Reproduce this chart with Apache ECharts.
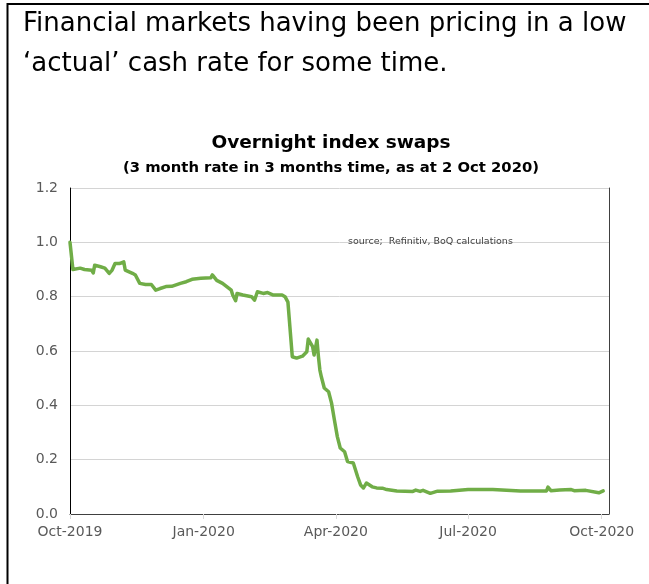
<!DOCTYPE html>
<html>
<head>
<meta charset="utf-8">
<script src="https://cdn.jsdelivr.net/npm/echarts@6/dist/echarts.min.js"></script>
<style>
  html, body { margin: 0; padding: 0; background: #ffffff; }
  #chart { width: 649px; height: 584px; }
</style>
</head>
<body>
<div id="chart"></div>
<script>
// 3-month OIS rate in 3 months' time (%), daily observations
const obsDates = [
  '2019-10-01','2019-10-03','2019-10-08','2019-10-11','2019-10-16','2019-10-17','2019-10-18',
  '2019-10-22','2019-10-25','2019-10-28','2019-10-30','2019-11-01','2019-11-04','2019-11-07',
  '2019-11-08','2019-11-13','2019-11-15','2019-11-18','2019-11-22','2019-11-26','2019-11-29',
  '2019-12-02','2019-12-06','2019-12-10','2019-12-16','2019-12-20','2019-12-24','2019-12-30',
  '2020-01-06','2020-01-07','2020-01-10','2020-01-14','2020-01-20','2020-01-21','2020-01-23',
  '2020-01-24','2020-01-28','2020-02-03','2020-02-05','2020-02-07','2020-02-11','2020-02-14',
  '2020-02-18','2020-02-24','2020-02-26','2020-02-27','2020-02-28','2020-03-02','2020-03-05',
  '2020-03-09','2020-03-12','2020-03-13','2020-03-16','2020-03-17','2020-03-19','2020-03-20',
  '2020-03-21','2020-03-22','2020-03-24','2020-03-27','2020-03-29','2020-03-31','2020-04-02',
  '2020-04-04','2020-04-07','2020-04-09','2020-04-13','2020-04-16','2020-04-18','2020-04-20',
  '2020-04-22','2020-04-26','2020-04-29','2020-05-03','2020-05-06','2020-05-13','2020-05-24',
  '2020-05-26','2020-05-29','2020-05-31','2020-06-05','2020-06-10','2020-06-19','2020-07-01',
  '2020-07-02','2020-07-09','2020-07-10','2020-07-18','2020-07-19','2020-08-06','2020-08-24',
  '2020-08-25','2020-08-27','2020-09-02','2020-09-10','2020-09-12','2020-09-20','2020-09-29',
  '2020-10-02'
];
const oisRate = [
  1.00, 0.90, 0.905, 0.90, 0.897, 0.887, 0.916,
  0.91, 0.905, 0.886, 0.898, 0.922, 0.922, 0.928,
  0.898, 0.886, 0.88, 0.849, 0.845, 0.845, 0.824,
  0.83, 0.837, 0.838, 0.849, 0.855, 0.864, 0.868,
  0.87, 0.88, 0.86, 0.849, 0.824, 0.806, 0.785,
  0.812, 0.806, 0.80, 0.787, 0.818, 0.812, 0.815,
  0.806, 0.806, 0.80, 0.795, 0.78, 0.579, 0.574,
  0.581, 0.597, 0.644, 0.616, 0.585, 0.64, 0.579,
  0.53, 0.505, 0.464, 0.45, 0.409, 0.346, 0.285,
  0.243, 0.229, 0.193, 0.188, 0.137, 0.107, 0.096,
  0.114, 0.10, 0.096, 0.095, 0.09, 0.085, 0.083,
  0.088, 0.083, 0.087, 0.076, 0.084, 0.085, 0.09,
  0.085, 0.09, 0.085, 0.09, 0.085, 0.085, 0.085,
  0.099, 0.086, 0.088, 0.09, 0.086, 0.087, 0.078,
  0.085
];
const xTickDates = ['2019-10-01', '2020-01-01', '2020-04-01', '2020-07-01', '2020-10-01'];
const xTickLabels = ['Oct-2019', 'Jan-2020', 'Apr-2020', 'Jul-2020', 'Oct-2020'];
const xRange = ['2019-10-01', '2020-10-06'];
const yRange = [0, 1.2];
const yStep = 0.2;

const headline = 'Financial markets having been pricing in a low\n\u2018actual\u2019 cash rate for some time.';
const chartTitle = 'Overnight index swaps';
const chartSubtitle = '(3 month rate in 3 months time, as at 2 Oct 2020)';
const sourceNote = 'source;  Refinitiv, BoQ calculations';

function toTime(s) {
  const p = s.split('-').map(Number);
  return Date.UTC(p[0], p[1] - 1, p[2]);
}
const tickTimes = xTickDates.map(toTime);
const seriesData = obsDates.map((d, i) => [toTime(d), oisRate[i]]);

const chart = echarts.init(document.getElementById('chart'), null, { renderer: 'canvas' });
const axisFont = 'DejaVu Sans';

chart.setOption({
  animation: false,
  backgroundColor: '#ffffff',
  title: {
    text: chartTitle,
    subtext: chartSubtitle,
    left: 326,
    top: 129,
    textAlign: 'center',
    itemGap: 8,
    textStyle: { fontFamily: axisFont, fontWeight: 'bold', fontSize: 18.5, color: '#000000' },
    subtextStyle: { fontFamily: axisFont, fontWeight: 'bold', fontSize: 14.8, color: '#000000' }
  },
  grid: { left: 70, right: 40, top: 188, bottom: 70, containLabel: false },
  xAxis: [
    {
      type: 'value',
      min: toTime(xRange[0]),
      max: toTime(xRange[1]),
      axisLine: { show: true, lineStyle: { color: '#d9d9d9', width: 1 } },
      axisTick: { show: true, customValues: tickTimes, length: 5, lineStyle: { color: '#d9d9d9' } },
      axisLabel: {
        customValues: tickTimes,
        margin: 11,
        fontFamily: axisFont,
        fontSize: 14,
        color: '#595959',
        formatter: function (v) {
          const i = tickTimes.indexOf(v);
          return i >= 0 ? xTickLabels[i] : '';
        }
      },
      splitLine: { show: false }
    },
    {
      type: 'value',
      position: 'top',
      min: toTime(xRange[0]),
      max: toTime(xRange[1]),
      axisLine: { show: true, lineStyle: { color: '#404040', width: 1 } },
      axisTick: { show: false },
      axisLabel: { show: false },
      splitLine: { show: false }
    }
  ],
  yAxis: [
    {
      type: 'value',
      min: yRange[0],
      max: yRange[1],
      interval: yStep,
      axisLine: { show: true, lineStyle: { color: '#000000', width: 1 } },
      axisTick: { show: false },
      axisLabel: {
        margin: 12,
        fontFamily: axisFont,
        fontSize: 14,
        color: '#595959',
        formatter: v => v.toFixed(1)
      },
      splitLine: { show: true, lineStyle: { color: '#d4d4d4', width: 1 } }
    },
    {
      type: 'value',
      position: 'right',
      min: yRange[0],
      max: yRange[1],
      interval: yStep,
      axisLine: { show: true, lineStyle: { color: '#404040', width: 1 } },
      axisTick: { show: false },
      axisLabel: { show: false },
      splitLine: { show: false }
    }
  ],
  graphic: [
    {
      type: 'text',
      left: 23,
      top: 4,
      style: {
        text: headline,
        fontFamily: 'DejaVu Sans',
        fontSize: 26,
        lineHeight: 40,
        fill: '#000000'
      }
    },
    {
      type: 'text',
      left: 348,
      top: 237,
      z: 10,
      style: {
        text: sourceNote,
        fontFamily: 'DejaVu Sans',
        fontSize: 9.5,
        fill: '#404040'
      }
    },
    {
      type: 'line',
      shape: { x1: 7.5, y1: 3, x2: 7.5, y2: 584 },
      style: { stroke: '#000000', lineWidth: 2 }
    },
    {
      type: 'line',
      shape: { x1: 7, y1: 4, x2: 649, y2: 4 },
      style: { stroke: '#000000', lineWidth: 2 }
    }
  ],
  series: [
    {
      type: 'line',
      xAxisIndex: 0,
      yAxisIndex: 0,
      data: seriesData,
      showSymbol: false,
      smooth: false,
      lineStyle: { color: '#70ad47', width: 3.5, join: 'round', cap: 'round' },
      z: 5
    }
  ]
});
</script>
</body>
</html>
